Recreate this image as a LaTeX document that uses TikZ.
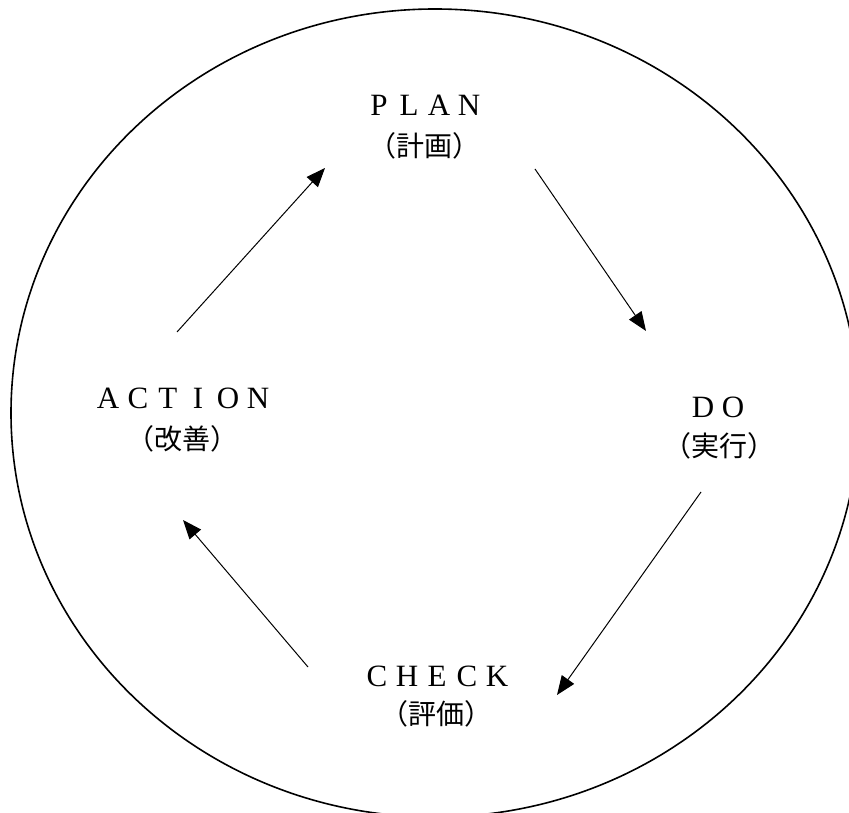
\documentclass[tikz,border=0pt]{standalone}
\usepackage{fontspec}
\setmainfont{Liberation Serif}
\newfontfamily\jpfont{Noto Sans CJK JP}
\usetikzlibrary{arrows.meta}
\newcommand\lsp[1]{\makebox[30pt]{#1}}
\tikzset{
  latin/.style={anchor=base, inner sep=0pt, font=\fontsize{31}{33}\selectfont},
  kanji/.style={anchor=base, inner sep=0pt, font=\jpfont\fontsize{28}{32}\selectfont},
  flow/.style={line width=1pt, -{Triangle[length=19pt,width=15pt]}},
  ring/.style={line width=1.6pt}
}
\begin{document}
\begin{tikzpicture}[x=1pt,y=1pt]
\useasboundingbox (0,0) rectangle (849,812);
\clip (0,0) rectangle (849,812);
\fill[white] (0,0) rectangle (849,812);
\draw[ring] (435,399) ellipse [x radius=424, y radius=404];
% labels
\node[latin] (plan) at (424,696) {\lsp{P}\lsp{L}\lsp{A}\lsp{N}};
\node[kanji] (plank) at (424,655) {（計画）};
\node[latin] (do) at (718,394) {\lsp{D}\lsp{O}};
\node[kanji] (dok) at (719,355) {（実行）};
\node[latin] (check) at (437,126) {\lsp{C}\lsp{H}\lsp{E}\lsp{C}\lsp{K}};
\node[kanji] (checkk) at (436,88) {（評価）};
\node[latin] (action) at (183,403) {\lsp{A}\lsp{C}\lsp{T}\lsp{I}\lsp{O}\lsp{N}};
\node[kanji] (actionk) at (182,362) {（改善）};
% arrow end points
\coordinate (a1s) at (177,480);
\coordinate (a1e) at (325,644);
\coordinate (a2s) at (535,643);
\coordinate (a2e) at (646,481);
\coordinate (a3s) at (701,320);
\coordinate (a3e) at (557,117);
\coordinate (a4s) at (308,145);
\coordinate (a4e) at (183,292);
\draw[flow] (a1s) -- (a1e);
\draw[flow] (a2s) -- (a2e);
\draw[flow] (a3s) -- (a3e);
\draw[flow] (a4s) -- (a4e);
\end{tikzpicture}
\end{document}
